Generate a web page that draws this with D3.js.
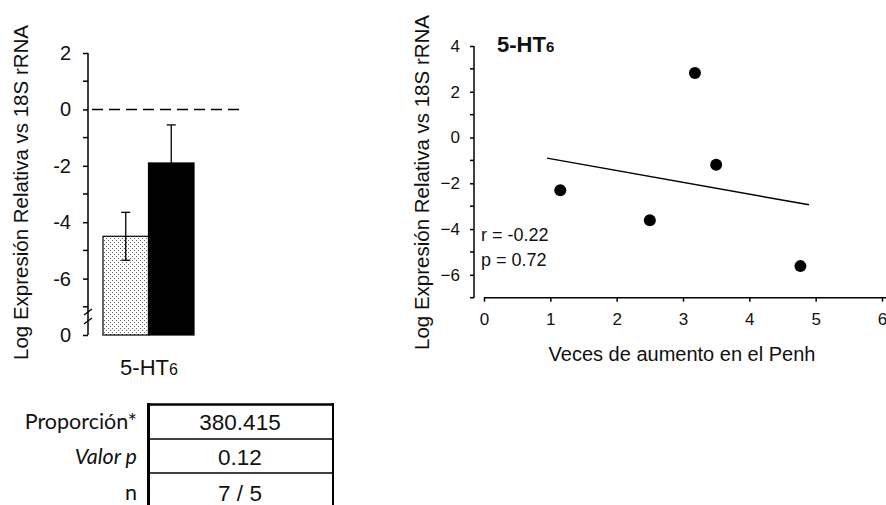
<!DOCTYPE html>
<html><head><meta charset="utf-8">
<script src="https://cdn.jsdelivr.net/npm/d3@7"></script>
<style>body{margin:0;background:#fff}svg{display:block}</style>
</head><body>
<script>
// ---- data ----
const barGroups = ["control", "asma"];
const barMeans = [-4.5, -1.9];
const barSem = [0.85, 1.35];
const barShowLower = [true, false];
const leftTickValues = [2, 0, -2, -4, -6, -8];
const leftTickLabels = ["2", "0", "-2", "-4", "-6", "0"];
const leftMinorTicks = [1, -1, -3, -5, -7];

const scatterX = [1.15, 2.5, 3.18, 3.5, 4.77];
const scatterY = [-2.3, -3.62, 2.82, -1.19, -5.62];
const trendX = [0.95, 4.9];
const trendY = [-0.9, -2.94];
const rightYTicks = [4, 2, 0, -2, -4, -6];
const rightYMinor = [3, 1, -1, -3, -5, -7];
const rightXTicks = [0, 1, 2, 3, 4, 5, 6];

const tableLabels = ["Proporción*", "Valor p", "n"];
const tableValues = ["380.415", "0.12", "7 / 5"];

const W = 886, H = 505;
const FONT = "Arial, 'Liberation Sans', sans-serif";
const svg = d3.select("body").append("svg").attr("width", W).attr("height", H)
  .style("font-family", FONT);

// pattern
const defs = svg.append("defs");
const pat = defs.append("pattern").attr("id", "stipple").attr("patternUnits", "userSpaceOnUse")
  .attr("width", 4).attr("height", 4);
pat.append("rect").attr("width", 4).attr("height", 4).attr("fill", "#fff");
pat.append("rect").attr("x", 0).attr("y", 0).attr("width", 1).attr("height", 1).attr("fill", "#666");
pat.append("rect").attr("x", 2).attr("y", 2).attr("width", 1).attr("height", 1).attr("fill", "#666");

// ---- left bar chart ----
const yL = d3.scaleLinear().domain([-8, 2]).range([335, 53]);
const xL = d3.scaleBand().domain(barGroups).range([103, 194]).padding(0);
const axL = 88;

const gL = svg.append("g");
const axisL = d3.axisLeft(yL).tickValues(leftTickValues).tickSize(5).tickPadding(12)
  .tickFormat((d, i) => leftTickLabels[i]);
const gax = gL.append("g").attr("transform", `translate(${axL},0)`).call(axisL);
gax.select(".domain").remove();
gax.selectAll("text").style("font-size", "20px").style("fill", "#111").style("font-family", FONT);
gax.selectAll("line").attr("stroke", "#000").attr("stroke-width", 1.5);
gL.append("g").selectAll("line").data(leftMinorTicks).join("line")
  .attr("x1", axL - 5).attr("x2", axL).attr("y1", d => yL(d)).attr("y2", d => yL(d))
  .attr("stroke", "#000").attr("stroke-width", 1.5);
gL.append("line").attr("x1", axL).attr("x2", axL).attr("y1", yL(2)).attr("y2", yL(-8))
  .attr("stroke", "#000").attr("stroke-width", 1.5);
// break marks
[312, 321].forEach(yy => {
  gL.append("path").attr("d", `M${axL - 4},${yy + 3} L${axL + 4},${yy - 3}`)
    .attr("stroke", "#000").attr("stroke-width", 1.3).attr("fill", "none");
});

// dashed zero line
gL.append("line").attr("x1", 92).attr("x2", 244).attr("y1", yL(0)).attr("y2", yL(0))
  .attr("stroke", "#000").attr("stroke-width", 1.5).attr("stroke-dasharray", "11,6");

// bars
gL.selectAll("rect.bar").data(barGroups).join("rect").attr("class", "bar")
  .attr("x", d => xL(d)).attr("width", xL.bandwidth())
  .attr("y", (d, i) => yL(barMeans[i])).attr("height", (d, i) => yL(-8) - yL(barMeans[i]))
  .attr("fill", (d, i) => i === 0 ? "url(#stipple)" : "#000")
  .attr("stroke", "#000").attr("stroke-width", 1.2);

// error bars
barGroups.forEach((g, i) => {
  const cx = xL(g) + xL.bandwidth() / 2;
  const top = barMeans[i] + barSem[i];
  const bot = barShowLower[i] ? barMeans[i] - barSem[i] : barMeans[i];
  gL.append("line").attr("x1", cx).attr("x2", cx).attr("y1", yL(top)).attr("y2", yL(bot))
    .attr("stroke", "#000").attr("stroke-width", 1.3);
  gL.append("line").attr("x1", cx - 4.5).attr("x2", cx + 4.5).attr("y1", yL(top)).attr("y2", yL(top))
    .attr("stroke", "#000").attr("stroke-width", 1.3);
  if (barShowLower[i]) {
    gL.append("line").attr("x1", cx - 4.5).attr("x2", cx + 4.5).attr("y1", yL(bot)).attr("y2", yL(bot))
      .attr("stroke", "#000").attr("stroke-width", 1.3);
  }
});

// left y title
gL.append("text").attr("transform", `translate(28,192.5) rotate(-90)`)
  .attr("text-anchor", "middle").style("font-size", "20.5px").style("fill", "#111")
  .text("Log Expresión Relativa vs 18S rRNA");

// category label
const cl = gL.append("text").attr("x", 149).attr("y", 375).attr("text-anchor", "middle")
  .style("font-size", "22px").style("fill", "#111");
cl.append("tspan").text("5-HT");
cl.append("tspan").style("font-size", "16px").text("6");

// ---- table ----
const gT = svg.append("g");
gT.append("line").attr("x1", 148.5).attr("x2", 148.5).attr("y1", 403).attr("y2", 505)
  .attr("stroke", "#000").attr("stroke-width", 3);
gT.append("line").attr("x1", 333).attr("x2", 333).attr("y1", 403).attr("y2", 505)
  .attr("stroke", "#000").attr("stroke-width", 2);
gT.append("line").attr("x1", 147).attr("x2", 334).attr("y1", 404.5).attr("y2", 404.5)
  .attr("stroke", "#000").attr("stroke-width", 2.5);
[439, 473].forEach(yy => gT.append("line").attr("x1", 147).attr("x2", 334).attr("y1", yy).attr("y2", yy)
  .attr("stroke", "#000").attr("stroke-width", 1.5));
const labBase = [429, 464, 500];
gT.selectAll("text.lab").data(tableLabels).join("text").attr("class", "lab")
  .attr("x", 137).attr("y", (d, i) => labBase[i]).attr("text-anchor", "end")
  .style("font-family", "Lato, 'Open Sans', sans-serif").style("font-size", "21.5px")
  .style("font-style", (d, i) => i === 1 ? "italic" : "normal").style("fill", "#111")
  .text(d => d);
gT.selectAll("text.val").data(tableValues).join("text").attr("class", "val")
  .attr("x", 240).attr("y", (d, i) => labBase[i] + 1).attr("text-anchor", "middle")
  .style("font-size", "22.5px").style("fill", "#111")
  .text(d => d);

// ---- right scatter ----
const xR = d3.scaleLinear().domain([0, 6]).range([484, 882]);
const yR = d3.scaleLinear().domain([-7, 4]).range([297.7, 46]);
const axRX = 474;
const gR = svg.append("g");
const axY = d3.axisLeft(yR).tickValues(rightYTicks).tickSize(4).tickPadding(10).tickFormat(d3.format("d"));
const gy = gR.append("g").attr("transform", `translate(${axRX},0)`).call(axY);
gy.select(".domain").remove();
gy.selectAll("text").style("font-size", "17px").style("fill", "#111").style("font-family", FONT);
gy.selectAll("line").attr("stroke", "#000").attr("stroke-width", 1.5);
gR.append("g").selectAll("line").data(rightYMinor).join("line")
  .attr("x1", axRX - 4).attr("x2", axRX).attr("y1", d => yR(d)).attr("y2", d => yR(d))
  .attr("stroke", "#000").attr("stroke-width", 1.5);
gR.append("line").attr("x1", axRX).attr("x2", axRX).attr("y1", yR(4)).attr("y2", yR(-7))
  .attr("stroke", "#000").attr("stroke-width", 1.5);

const axX = d3.axisBottom(xR).tickValues(rightXTicks).tickSize(4).tickPadding(11).tickFormat(d3.format("d"));
const gx = gR.append("g").attr("transform", `translate(0,${yR(-7)})`).call(axX);
gx.select(".domain").remove();
gx.selectAll("text").style("font-size", "17px").style("fill", "#111").style("font-family", FONT);
gx.selectAll("line").attr("stroke", "#000").attr("stroke-width", 1.5);
gR.append("line").attr("x1", xR(0)).attr("x2", 886).attr("y1", yR(-7)).attr("y2", yR(-7))
  .attr("stroke", "#000").attr("stroke-width", 1.5);

// trend line
gR.append("line").attr("x1", xR(trendX[0])).attr("y1", yR(trendY[0]))
  .attr("x2", xR(trendX[1])).attr("y2", yR(trendY[1]))
  .attr("stroke", "#000").attr("stroke-width", 1.5);

// points
gR.selectAll("circle").data(scatterX).join("circle")
  .attr("cx", d => xR(d)).attr("cy", (d, i) => yR(scatterY[i])).attr("r", 6).attr("fill", "#000");

// title
const tt = gR.append("text").attr("x", 497).attr("y", 52).style("font-size", "22px")
  .style("font-weight", "bold").style("fill", "#111");
tt.append("tspan").text("5-HT");
tt.append("tspan").style("font-size", "15px").text("6");

// r/p
const NARROW = "'Liberation Sans Narrow', 'Arial Narrow', Arial, sans-serif";
gR.append("text").attr("x", 481).attr("y", 241).style("font-size", "18px")
  .style("font-family", NARROW).style("fill", "#111").text("r = -0.22");
gR.append("text").attr("x", 481).attr("y", 266).style("font-size", "18px")
  .style("font-family", NARROW).style("fill", "#111").text("p = 0.72");

// titles
gR.append("text").attr("transform", `translate(428.5,182.5) rotate(-90)`)
  .attr("text-anchor", "middle").style("font-size", "20.5px").style("fill", "#111")
  .text("Log Expresión Relativa vs 18S rRNA");
gR.append("text").attr("x", 682).attr("y", 361).attr("text-anchor", "middle")
  .style("font-size", "20px").style("fill", "#111").text("Veces de aumento en el Penh");
</script>
</body></html>
